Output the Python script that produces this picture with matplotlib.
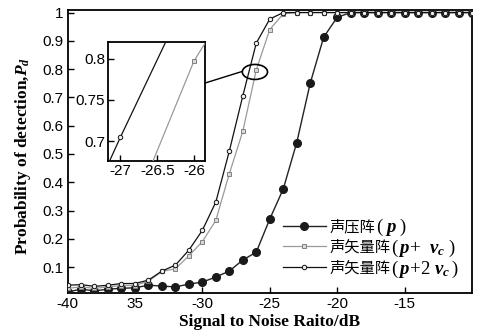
import numpy as np
import matplotlib
matplotlib.use("Agg")
import matplotlib.pyplot as plt
from matplotlib.patches import Ellipse, ConnectionPatch

plt.rcParams['font.family'] = ['Liberation Sans', 'Noto Sans CJK SC', 'DejaVu Sans']
plt.rcParams['mathtext.fontset'] = 'custom'
plt.rcParams['mathtext.rm'] = 'Liberation Serif'
plt.rcParams['mathtext.it'] = 'Liberation Serif:italic:bold'
plt.rcParams['mathtext.bf'] = 'Liberation Serif:bold'

snr = list(range(-40, -9))
pd_p = [0.012, 0.022, 0.016, 0.022, 0.025, 0.027, 0.036, 0.033, 0.03, 0.04, 0.047,
        0.065, 0.086, 0.125, 0.153, 0.27, 0.376, 0.54, 0.75, 0.913, 0.983] + [1.0] * 10
pd_pv = [0.025, 0.03, 0.025, 0.03, 0.035, 0.035, 0.05, 0.085, 0.094, 0.14, 0.19,
         0.265, 0.43, 0.58, 0.797, 0.94, 0.995] + [1.0] * 14
pd_p2v = [0.036, 0.038, 0.032, 0.036, 0.042, 0.042, 0.054, 0.086, 0.107, 0.16, 0.23,
          0.33, 0.51, 0.705, 0.892, 0.977] + [1.0] * 15

label_cn = ['声压阵', '声矢量阵', '声矢量阵']
label_math = ['$(\\;p\\;)$', '$(\\,p\\!+\\;\\,v_c\\;)$', '$(\\,p\\!+\\!2\\;v_c\\,)$']
xticks = [-40, -35, -30, -25, -20, -15]
xticklabels = ['-40', '35', '-30', '-25', '-20', '-15']
yticks = [0.1, 0.2, 0.3, 0.4, 0.5, 0.6, 0.7, 0.8, 0.9, 1.0]
yticklabels = ['0.1', '0.2', '0.3', '0.4', '0.5', '0.6', '0.7', '0.8', '0.9', '1']
in_xticks = [-27, -26.5, -26]
in_xticklabels = ['-27', '-26.5', '-26']
in_yticks = [0.7, 0.75, 0.8]
in_yticklabels = ['0.7', '0.75', '0.8']

W, H = 482, 336
fig = plt.figure(figsize=(W / 100, H / 100), dpi=100)
ax = fig.add_axes([67.5 / W, 1 - 293 / H, (472 - 67.5) / W, (293 - 10) / H])

def draw(a):
    l1, = a.plot(snr, pd_p, color='#222222', lw=1.0, marker='o', ms=5.5,
                 mfc='#1a1a1a', mec='#1a1a1a', zorder=3)
    l2, = a.plot(snr, pd_pv, color='#9a9a9a', lw=0.9, marker='s', ms=3.2,
                 mfc='#d8d8d8', mec='#808080', mew=0.7, zorder=4)
    l3, = a.plot(snr, pd_p2v, color='#111111', lw=0.9, marker='o', ms=3.2,
                 mfc='#f0f0f0', mec='#111111', mew=0.7, zorder=5)
    return l1, l2, l3

handles = draw(ax)
ax.set_xlim(-40, -10)
ax.set_ylim(0.0085, 1.009)
ax.set_xticks(xticks)
ax.set_xticklabels(xticklabels)
ax.set_yticks(yticks)
ax.set_yticklabels(yticklabels)
ax.tick_params(direction='in', length=4, width=1, labelsize=11, pad=3)
for s in ax.spines.values():
    s.set_linewidth(1.3)

ax.set_xlabel('Signal to Noise Raito/dB', fontfamily='Liberation Serif',
              fontweight='bold', fontsize=12.5, labelpad=2)
fig.text(23 / W, 1 - 156 / H, 'Probability of detection,$P_d$', rotation=90,
         ha='center', va='center', fontfamily='Liberation Serif',
         fontweight='bold', fontsize=12.5)

leg = fig.legend(handles=handles, labels=label_cn, loc='upper left',
                 bbox_to_anchor=(283 / W, 1 - 218 / H), frameon=False,
                 prop={'family': ['Noto Sans CJK SC', 'DejaVu Sans'], 'size': 11},
                 handlelength=2.8, handletextpad=0.25, labelspacing=0.25,
                 borderpad=0, borderaxespad=0)

# inset
ins = fig.add_axes([108 / W, 1 - 161 / H, 97 / W, 119 / H])
draw(ins)
ins.set_xlim(-27.17, -25.85)
ins.set_ylim(0.676, 0.82)
ins.set_xticks(in_xticks)
ins.set_xticklabels(in_xticklabels)
ins.set_yticks(in_yticks)
ins.set_yticklabels(in_yticklabels)
ins.tick_params(direction='in', length=4, width=1, labelsize=11, pad=2)
for s in ins.spines.values():
    s.set_linewidth(1.3)

ell = Ellipse((-26.1, 0.79), 1.87, 0.053, fill=False, ec='black', lw=1.2, zorder=6)
ax.add_patch(ell)
con = ConnectionPatch(xyA=(1.0, 0.655), coordsA=ins.transAxes,
                      xyB=(-27.03, 0.792), coordsB=ax.transData,
                      color='black', lw=1.0)
fig.add_artist(con)

# math part of legend labels, larger serif
fig.canvas.draw()
r = fig.canvas.get_renderer()
inv = fig.transFigure.inverted()
for t, m in zip(leg.get_texts(), label_math):
    bb = t.get_window_extent(r)
    fx, fy = inv.transform((bb.x1 + 0.5, (bb.y0 + bb.y1) / 2 - 1))
    fig.text(fx, fy, m, fontsize=13.5, ha='left', va='center')

fig.savefig('out.png', dpi=100)
